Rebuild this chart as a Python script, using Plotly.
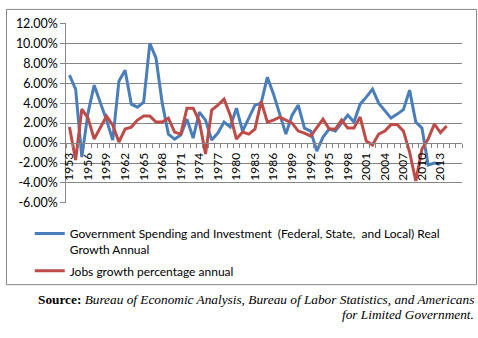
import plotly.graph_objects as go

years = list(range(1953, 2015))
gov_spending = [6.8, 5.4, -1.4, 3.0, 5.8, 4.1, 2.3, 0.3, 6.2, 7.3,
                3.9, 3.6, 4.1, 10.0, 8.5, 4.0, 0.9, 0.4, 0.8, 2.4,
                0.5, 3.1, 2.3, 0.3, 1.0, 2.1, 1.6, 3.5, 1.2, 2.5,
                3.8, 4.0, 6.6, 4.9, 3.0, 0.9, 2.8, 3.8, 1.5, 1.2,
                -0.8, 0.6, 1.4, 1.2, 2.0, 2.8, 2.1, 3.9, 4.6, 5.4,
                4.0, 3.2, 2.5, 2.9, 3.35, 5.3, 2.1, 1.5, -2.2, -2.0,
                -2.1, None]
jobs_growth = [1.6, -1.7, 3.4, 2.5, 0.4, 1.5, 2.7, 1.8, 0.1, 1.4,
               1.6, 2.3, 2.7, 2.7, 2.1, 2.1, 2.5, 1.1, 0.9, 3.5,
               3.5, 2.2, -1.1, 3.3, 3.8, 4.4, 2.8, 0.4, 1.1, 0.9,
               1.4, 4.2, 2.1, 2.3, 2.6, 2.3, 2.0, 1.2, 1.0, 0.7,
               1.5, 2.4, 1.4, 1.4, 2.3, 1.5, 1.5, 2.6, 0.2, -0.2,
               0.9, 1.2, 1.85, 1.85, 1.2, -0.9, -3.8, -0.6, 0.4, 1.9,
               1.05, 1.7]
tick_years = list(range(1953, 2014, 3))
y_ticks = list(range(-6, 13, 2))

series_names = [
    "Government Spending and Investment  (Federal, State,  and Local) Real<br>Growth Annual",
    "Jobs growth percentage annual",
]
colors = ["#4A7EBB", "#BE4B48"]

W, H = 478, 338
grid = "#868686"
font = "Lato, 'Open Sans', sans-serif"

x_left, x_right = 62, 462
y_top, y_bot = 16, 204
y_min, y_max = -6, 12
ydom = [1 - y_bot / H, 1 - y_top / H]
zero_pos = ydom[0] + (0 - y_min) / (y_max - y_min) * (ydom[1] - ydom[0])

fig = go.Figure()
for i, (vals, name, col) in enumerate(zip([gov_spending, jobs_growth], series_names, colors)):
    fig.add_trace(go.Scatter(
        x=years, y=vals, mode="lines", name=name,
        line=dict(color=col, width=3), legendgroup=f"g{i}",
        connectgaps=False,
    ))

fig.update_layout(
    width=W, height=H,
    margin=dict(l=0, r=0, t=0, b=0),
    paper_bgcolor="white", plot_bgcolor="white",
    font=dict(family=font, size=12, color="#000"),
    showlegend=True,
    legend=dict(
        x=25 / W, y=1 - 221 / H, xanchor="left", yanchor="top",
        valign="top", tracegroupgap=3, font=dict(size=12, color="#000"),
        bgcolor="rgba(0,0,0,0)",
    ),
    xaxis=dict(
        domain=[x_left / W, x_right / W],
        range=[years[0] - 0.5, years[0] + 63.5],
        anchor="free", position=zero_pos,
        tickmode="array", tickvals=tick_years,
        ticktext=[str(y) for y in tick_years],
        tickangle=-90, ticks="", ticklabelstandoff=4,
        showgrid=False, zeroline=False,
        showline=True, linecolor=grid, linewidth=1,
        tickfont=dict(size=12, color="#000"),
        minor=dict(tickmode="linear", tick0=years[0] - 0.5, dtick=1,
                   ticks="outside", ticklen=4, tickcolor=grid, showgrid=False),
    ),
    yaxis=dict(
        domain=ydom, range=[y_min, y_max],
        tickmode="array", tickvals=y_ticks,
        ticktext=[f"{v:.2f}%" for v in y_ticks],
        showgrid=True, gridcolor=grid, gridwidth=1,
        zeroline=False, showline=True, linecolor=grid, linewidth=1,
        ticks="outside", ticklen=5, tickcolor=grid,
        tickfont=dict(size=12.5, color="#000"),
    ),
    shapes=[dict(type="rect", xref="paper", yref="paper",
                 x0=1.5 / W, x1=476.5 / W, y0=1 - 289.5 / H, y1=1 - 1.5 / H,
                 line=dict(color=grid, width=1), fillcolor="rgba(0,0,0,0)")],
    annotations=[
        dict(xref="paper", yref="paper", x=476 / W, y=1 - 305 / H,
             xanchor="right", yanchor="middle", showarrow=False,
             text="<b>Source:</b> <i>Bureau of Economic Analysis, Bureau of Labor Statistics, and Americans</i>",
             font=dict(family="'Liberation Serif', serif", size=13.3, color="#000")),
        dict(xref="paper", yref="paper", x=476 / W, y=1 - 321 / H,
             xanchor="right", yanchor="middle", showarrow=False,
             text="<i>for Limited Government.</i>",
             font=dict(family="'Liberation Serif', serif", size=13.3, color="#000")),
    ],
)

fig.write_html("out.html")
